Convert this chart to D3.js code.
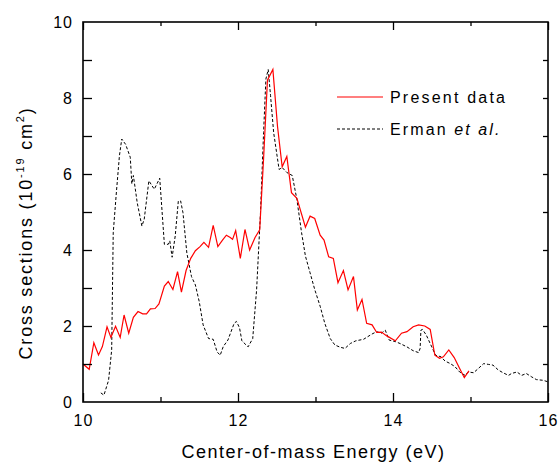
<!DOCTYPE html>
<html lang="en">
  <head>
    <meta charset="UTF-8" />
    <title>Cross sections</title>
    <script src="https://cdn.jsdelivr.net/npm/d3@7"></script>
    <style>
      body { margin: 0; background: #fff; }
      svg { display: block; }
      text { font-family: "Liberation Sans", Arial, sans-serif; fill: #000; }
    </style>
  </head>
  <body>
    <svg width="558" height="465"></svg>
    <script>
      // Present data (red)
      const presentE = [10.0, 10.08, 10.14, 10.2, 10.25, 10.31, 10.36, 10.42, 10.48, 10.53, 10.59, 10.65, 10.71, 10.77, 10.82, 10.87, 10.93, 10.98, 11.05, 11.1, 11.16, 11.22, 11.27, 11.33, 11.39, 11.45, 11.51, 11.56, 11.62, 11.68, 11.74, 11.8, 11.85, 11.9, 11.93, 11.97, 12.03, 12.09, 12.15, 12.22, 12.28, 12.33, 12.38, 12.45, 12.51, 12.57, 12.63, 12.69, 12.76, 12.87, 12.93, 12.99, 13.06, 13.11, 13.17, 13.23, 13.29, 13.36, 13.42, 13.49, 13.54, 13.6, 13.66, 13.73, 13.79, 13.85, 13.92, 14.03, 14.11, 14.18, 14.26, 14.33, 14.41, 14.48, 14.54, 14.6, 14.65, 14.72, 14.79, 14.86, 14.92, 14.98];
      const presentS = [1.0, 0.86, 1.56, 1.24, 1.46, 1.98, 1.7, 1.99, 1.7, 2.29, 1.81, 2.23, 2.38, 2.32, 2.32, 2.45, 2.46, 2.58, 3.05, 3.17, 2.96, 3.43, 2.89, 3.46, 3.78, 3.98, 4.09, 4.2, 4.07, 4.65, 4.09, 4.26, 4.39, 4.33, 4.28, 4.51, 3.78, 4.54, 4.0, 4.33, 4.53, 6.4, 8.47, 8.75, 7.25, 6.19, 6.46, 5.51, 5.36, 4.6, 4.89, 4.83, 4.39, 4.26, 3.82, 3.78, 3.14, 3.46, 2.95, 3.3, 2.42, 2.7, 2.07, 2.03, 1.83, 1.84, 1.74, 1.61, 1.81, 1.85, 1.98, 2.03, 2.0, 1.91, 1.23, 1.15, 1.19, 1.37, 1.17, 0.88, 0.64, 0.82];

      // Erman et al. (black dashed)
      const ermanE = [10.23, 10.27, 10.33, 10.37, 10.39, 10.43, 10.47, 10.5, 10.55, 10.61, 10.63, 10.65, 10.7, 10.76, 10.79, 10.85, 10.92, 10.99, 11.05, 11.1, 11.12, 11.15, 11.19, 11.23, 11.26, 11.29, 11.34, 11.4, 11.45, 11.5, 11.55, 11.62, 11.68, 11.73, 11.77, 11.81, 11.87, 11.95, 11.98, 12.02, 12.05, 12.13, 12.19, 12.24, 12.29, 12.33, 12.36, 12.39, 12.42, 12.46, 12.53, 12.57, 12.63, 12.7, 12.76, 12.82, 12.87, 12.93, 12.99, 13.06, 13.12, 13.19, 13.25, 13.32, 13.38, 13.45, 13.52, 13.62, 13.73, 13.79, 13.85, 13.9, 13.95, 14.03, 14.09, 14.18, 14.26, 14.33, 14.35, 14.36, 14.38, 14.43, 14.5, 14.55, 14.62, 14.67, 14.74, 14.8, 14.86, 14.93, 14.97, 15.04, 15.1, 15.17, 15.23, 15.29, 15.36, 15.42, 15.49, 15.53, 15.6, 15.66, 15.72, 15.79, 15.85, 15.94, 16.0];
      const ermanS = [0.24, 0.18, 0.57, 1.37, 4.45, 5.5, 6.48, 6.92, 6.78, 6.44, 5.74, 5.96, 5.24, 4.63, 4.81, 5.82, 5.6, 5.89, 4.15, 4.15, 4.24, 3.81, 4.37, 5.29, 5.29, 4.98, 3.92, 3.3, 3.08, 2.64, 2.03, 1.67, 1.65, 1.32, 1.23, 1.46, 1.63, 2.07, 2.12, 1.95, 1.61, 1.45, 1.67, 2.95, 4.98, 7.09, 8.5, 8.75, 8.06, 7.09, 6.12, 6.17, 6.04, 5.96, 5.33, 4.46, 3.84, 3.4, 2.96, 2.52, 2.07, 1.67, 1.5, 1.44, 1.41, 1.54, 1.61, 1.65, 1.79, 1.85, 1.81, 1.89, 1.63, 1.59, 1.54, 1.45, 1.35, 1.3, 1.41, 1.89, 1.91, 1.76, 1.45, 1.23, 1.19, 1.08, 1.01, 0.93, 0.79, 0.7, 0.79, 0.77, 0.88, 1.01, 0.99, 0.97, 0.84, 0.77, 0.7, 0.75, 0.79, 0.7, 0.75, 0.66, 0.59, 0.57, 0.53];

      const xMajor = [10, 12, 14, 16];
      const xMinor = [11, 13, 15];
      const yTicks = [0, 2, 4, 6, 8, 10];
      const yAll = [1, 2, 3, 4, 5, 6, 7, 8, 9];

      const mLeft = 83, mRight = 548, mTop = 22, mBottom = 402;
      const svg = d3.select("svg");

      const x = d3.scaleLinear().domain([10, 16]).range([mLeft, mRight]);
      const y = d3.scaleLinear().domain([0, 10]).range([mBottom, mTop]);

      const line = d3.line().x(d => x(d[0])).y(d => y(d[1]));

      svg.append("path")
        .attr("d", line(ermanE.map((e, i) => [e, ermanS[i]])))
        .attr("fill", "none")
        .attr("stroke", "#000")
        .attr("stroke-width", 1)
        .attr("stroke-dasharray", "3,2");

      svg.append("path")
        .attr("d", line(presentE.map((e, i) => [e, presentS[i]])))
        .attr("fill", "none")
        .attr("stroke", "#ff0000")
        .attr("stroke-width", 1.2);

      // axes, ticks pointing inward
      const styleAxis = g => {
        g.select(".domain").remove();
        g.selectAll(".tick line").attr("stroke", "#000").attr("stroke-width", 1.3);
        g.selectAll("text").style("font-size", "16px").style("letter-spacing", "1px")
          .style("font-family", "'Liberation Sans', Arial, sans-serif");
      };

      svg.append("g").attr("transform", `translate(0,${mBottom})`)
        .call(d3.axisBottom(x).tickValues(xMajor).tickSize(-9).tickPadding(13).tickFormat(d3.format("d")))
        .call(styleAxis);
      svg.append("g").attr("transform", `translate(0,${mBottom})`)
        .call(d3.axisBottom(x).tickValues(xMinor).tickSize(-5).tickFormat(""))
        .call(styleAxis);
      svg.append("g").attr("transform", `translate(0,${mTop})`)
        .call(d3.axisTop(x).tickValues(xMajor).tickSize(-8).tickFormat(""))
        .call(styleAxis);
      svg.append("g").attr("transform", `translate(0,${mTop})`)
        .call(d3.axisTop(x).tickValues(xMinor).tickSize(-4).tickFormat(""))
        .call(styleAxis);
      svg.append("g").attr("transform", `translate(${mLeft},0)`)
        .call(d3.axisLeft(y).tickValues(yAll).tickSize(-9).tickFormat(""))
        .call(styleAxis);
      svg.append("g").attr("transform", `translate(${mLeft},0)`)
        .call(d3.axisLeft(y).tickValues(yTicks).tickSize(0).tickPadding(10).tickFormat(d3.format("d")))
        .call(styleAxis);
      svg.append("g").attr("transform", `translate(${mRight},0)`)
        .call(d3.axisRight(y).tickValues(yAll).tickSize(-5).tickFormat(""))
        .call(styleAxis);

      svg.append("rect")
        .attr("x", mLeft).attr("y", mTop)
        .attr("width", mRight - mLeft).attr("height", mBottom - mTop)
        .attr("fill", "none").attr("stroke", "#000").attr("stroke-width", 1.6);

      // axis titles
      svg.append("text")
        .attr("x", (mLeft + mRight) / 2 - 2).attr("y", 458)
        .attr("text-anchor", "middle")
        .style("font-size", "18px").style("letter-spacing", "1.5px")
        .text("Center-of-mass Energy (eV)");

      const yt = svg.append("text")
        .attr("transform", "translate(32,233) rotate(-90)")
        .attr("text-anchor", "middle")
        .style("font-size", "18px").style("letter-spacing", "1.8px");
      yt.append("tspan").text("Cross sections (10");
      yt.append("tspan").attr("dy", -8).style("font-size", "11px").text("-19");
      yt.append("tspan").attr("dy", 8).text(" cm");
      yt.append("tspan").attr("dy", -8).style("font-size", "11px").text("2");
      yt.append("tspan").attr("dy", 8).text(")");

      // legend
      const legend = svg.append("g");
      legend.append("line").attr("x1", 337).attr("x2", 383).attr("y1", 97).attr("y2", 97)
        .attr("stroke", "#ff0000").attr("stroke-width", 1.2);
      legend.append("text").attr("x", 390).attr("y", 103)
        .style("font-size", "16px").style("letter-spacing", "2.2px").text("Present data");
      legend.append("line").attr("x1", 337).attr("x2", 383).attr("y1", 129).attr("y2", 129)
        .attr("stroke", "#000").attr("stroke-width", 1).attr("stroke-dasharray", "3,2");
      const et = legend.append("text").attr("x", 390).attr("y", 135)
        .style("font-size", "16px").style("letter-spacing", "2.1px");
      et.append("tspan").text("Erman ");
      et.append("tspan").style("font-style", "italic").text("et al.");
    </script>
  </body>
</html>
